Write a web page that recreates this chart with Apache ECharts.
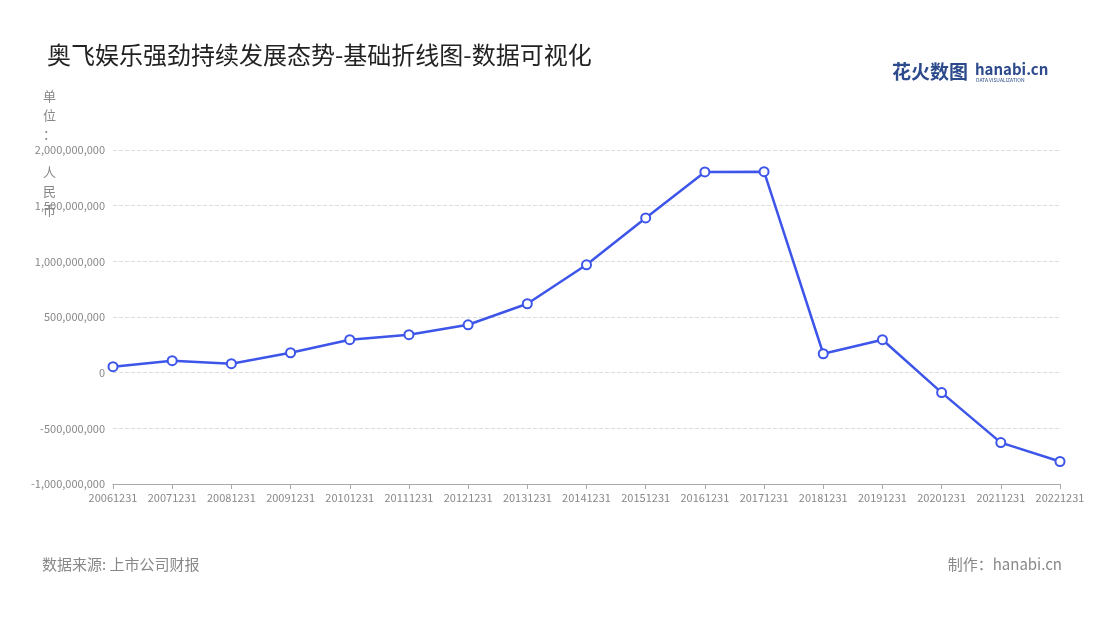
<!DOCTYPE html>
<html><head><meta charset="utf-8">
<script src="https://cdn.jsdelivr.net/npm/echarts@6/dist/echarts.min.js"></script>
<style>html,body{margin:0;padding:0;background:#fff}#c{width:1100px;height:620px}</style>
</head><body><div id="c"></div>
<script>
const categories = ['20061231','20071231','20081231','20091231','20101231','20111231','20121231','20131231','20141231','20151231','20161231','20171231','20181231','20191231','20201231','20211231','20221231'];
const values = [54000000,108000000,81000000,179000000,296000000,341000000,430000000,619000000,969000000,1390000000,1803000000,1805000000,170000000,296000000,-179000000,-628000000,-798000000];
const font = '"Noto Sans CJK SC","Noto Sans",sans-serif';
const chart = echarts.init(document.getElementById('c'));
chart.setOption({
  textStyle:{fontFamily:font},
  title:{text:'奥飞娱乐强劲持续发展态势-基础折线图-数据可视化',left:42,top:38,textStyle:{fontSize:24,fontWeight:'normal',color:'#222',fontFamily:font}},
  grid:{left:113,right:40,top:150,bottom:136},
  xAxis:{type:'category',data:categories,boundaryGap:false,
    axisLine:{onZero:false,lineStyle:{color:'#aaa'}},axisTick:{show:true,alignWithLabel:true,lineStyle:{color:'#aaa'}},
    axisLabel:{color:'#888',fontSize:11,interval:0,margin:8}},
  yAxis:{type:'value',min:-1000000000,max:2000000000,interval:500000000,
    axisLabel:{color:'#888',fontSize:11,formatter:v=>v.toLocaleString('en-US')},
    axisLine:{show:false},axisTick:{show:false},
    splitLine:{lineStyle:{type:'dashed',color:'#ddd'}}},
  series:[{type:'line',data:values,symbol:'circle',symbolSize:9,
    lineStyle:{color:'#3d55e8',width:2.5},
    itemStyle:{color:'#fff',borderColor:'#3d55e8',borderWidth:2}}],
  graphic:[
    {type:'text',left:43,top:87,style:{text:'单\n位\n：\n \n人\n民\n币',fill:'#888',fontSize:13,lineHeight:19,fontFamily:font}},
    {type:'text',left:42,top:557,style:{text:'数据来源: 上市公司财报',fill:'#888',fontSize:15,fontFamily:font}},
    {type:'text',right:38,top:557,style:{text:'制作：hanabi.cn',fill:'#888',fontSize:15,fontFamily:font}},
    {type:'text',left:892,top:62,style:{text:'花火数图',fill:'#2c4a8c',fontSize:19,fontWeight:'bold',fontFamily:font}},
    {type:'text',left:975,top:62,style:{text:'hanabi.cn',fill:'#2c4a8c',fontSize:15,fontWeight:'bold',fontFamily:font}},
    {type:'text',left:976,top:78,style:{text:'DATA VISUALIZATION',fill:'#2c4a8c',fontSize:5,fontFamily:font}}
  ]
});
</script></body></html>
